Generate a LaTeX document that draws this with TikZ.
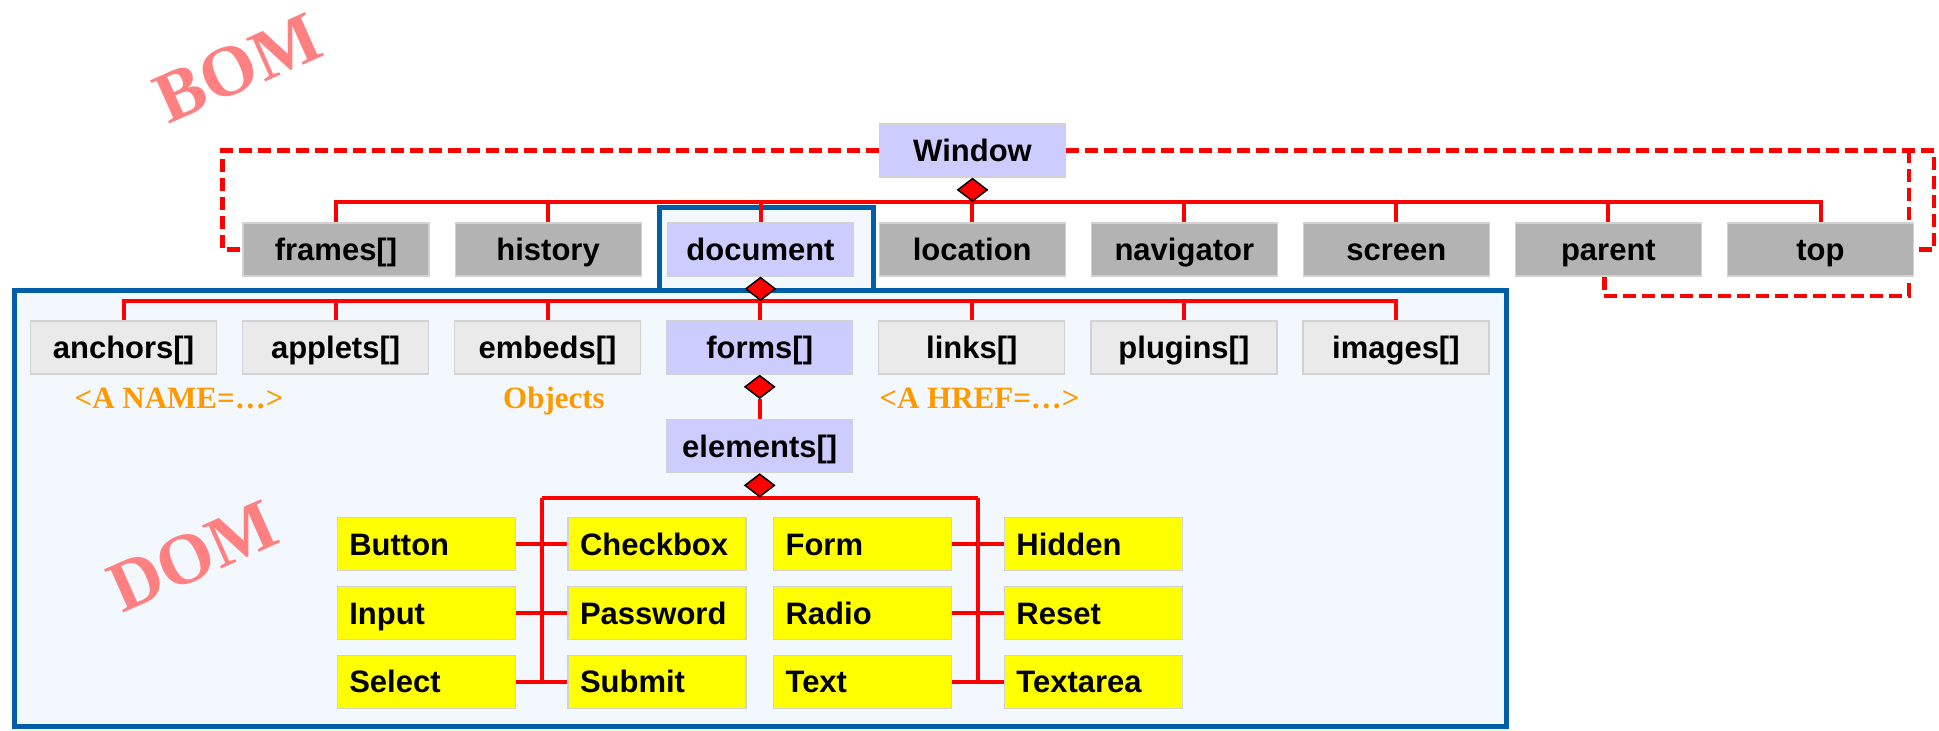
\documentclass[tikz,border=0pt]{standalone}
\usepackage{fontspec}
\setmainfont{Liberation Sans}
\newfontfamily\labelserif{Liberation Serif}
\usetikzlibrary{shapes.geometric,calc}

\definecolor{boxgrey}{HTML}{B3B3B3}
\definecolor{lav}{HTML}{CCCCFF}
\definecolor{paleobj}{HTML}{EAEAEA}
\definecolor{ctrlyellow}{HTML}{FFFF00}
\definecolor{boxedge}{HTML}{D2D2D2}
\definecolor{frameblue}{HTML}{005DAA}
\definecolor{domfill}{HTML}{F3F8FE}
\definecolor{noteorange}{HTML}{FF9900}
\definecolor{markpink}{HTML}{FF8080}
\definecolor{linkred}{HTML}{FF0000}

\pgfdeclarelayer{back}
\pgfdeclarelayer{wires}
\pgfsetlayers{back,wires,main}

\begin{document}
\begin{tikzpicture}[x=1pt,y=-1pt,
  objbox/.style={rectangle, draw=boxedge, line width=1.2pt, minimum width=186pt,
    minimum height=53pt, inner sep=0pt, text=black, text height=26pt, text depth=4pt,
    font=\fontsize{31}{36}\selectfont\bfseries},
  bomobj/.style={objbox, fill=boxgrey},
  mainobj/.style={objbox, fill=lav},
  domobj/.style={objbox, fill=paleobj},
  ctrlobj/.style={objbox, fill=ctrlyellow, minimum width=178pt, text width=154pt,
    align=left, inner xsep=12pt},
  redline/.style={draw=linkred, line width=4pt},
  dashref/.style={draw=linkred, line width=4.2pt, dash pattern=on 13pt off 6pt},
  aggmark/.style={diamond, aspect=1.3, draw=black, line width=1.5pt, fill=linkred,
    minimum width=30pt, minimum height=23pt, inner sep=0pt},
  notetext/.style={text=noteorange, anchor=base,
    font=\labelserif\fontsize{31}{36}\selectfont\bfseries},
  watermark/.style={text=markpink, rotate=24,
    font=\labelserif\fontsize{72}{80}\selectfont\bfseries},
  frame/.style={draw=frameblue, line width=5pt, fill=domfill}
]
\useasboundingbox (0,0) rectangle (1939,731);

% DOM area and the frame round the document object
\begin{pgfonlayer}{back}
\draw[frame] (14,290) rectangle (1506,726);
\draw[frame] (659,207) rectangle (873,290);
% BOM / DOM titles
\node[watermark] (bomtitle) at (238,68) {BOM};
\node[watermark] (domtitle) at (193,556) {DOM};
\end{pgfonlayer}

% Window and its children
\node[mainobj] (window) at (972.5,150.5) {Window};

\node[bomobj]  (frames)    at (336,249.5)    {frames[]};
\node[bomobj]  (history)   at (548.1,249.5)  {history};
\node[mainobj] (document)  at (760.5,249.5)  {document};
\node[bomobj]  (location)  at (972.2,249.5)  {location};
\node[bomobj]  (navigator) at (1184.3,249.5) {navigator};
\node[bomobj]  (screen)    at (1396.4,249.5) {screen};
\node[bomobj]  (parent)    at (1608.4,249.5) {parent};
\node[bomobj]  (topwin)    at (1820.5,249.5) {top};

% document children
\node[domobj]  (anchors)  at (123.5,347.5)  {anchors[]};
\node[domobj]  (applets)  at (335.6,347.5)  {applets[]};
\node[domobj]  (embeds)   at (547.6,347.5)  {embeds[]};
\node[mainobj] (forms)    at (759.7,347.5)  {forms[]};
\node[domobj]  (links)    at (971.8,347.5)  {links[]};
\node[domobj]  (plugins)  at (1183.9,347.5) {plugins[]};
\node[domobj]  (images)   at (1395.9,347.5) {images[]};

\node[notetext] (namenote) at (179,408)   {<A NAME=…>};
\node[notetext] (objnote)  at (554,408)   {Objects};
\node[notetext] (hrefnote) at (979.5,408) {<A HREF=…>};

\node[mainobj] (elements) at (759.7,446) {elements[]};

% form controls
\node[ctrlobj] (button)   at (426.3,544.2)  {Button};
\node[ctrlobj] (input)    at (426.3,613)    {Input};
\node[ctrlobj] (select)   at (426.3,681.7)  {Select};
\node[ctrlobj] (checkbox) at (657,544.2)    {Checkbox};
\node[ctrlobj] (password) at (657,613)      {Password};
\node[ctrlobj] (submit)   at (657,681.7)    {Submit};
\node[ctrlobj] (form)     at (862.6,544.2)  {Form};
\node[ctrlobj] (radio)    at (862.6,613)    {Radio};
\node[ctrlobj] (textbox)  at (862.6,681.7)  {Text};
\node[ctrlobj] (hidden)   at (1093.4,544.2) {Hidden};
\node[ctrlobj] (reset)    at (1093.4,613)   {Reset};
\node[ctrlobj] (textarea) at (1093.4,681.7) {Textarea};

% aggregation markers
\node[aggmark, anchor=north] (dwin)   at (window.south)   {};
\node[aggmark, anchor=north] (ddoc)   at (document.south) {};
\node[aggmark, anchor=north] (dforms) at (forms.south)    {};
\node[aggmark, anchor=north] (delem)  at (elements.south) {};

% junction columns between the control boxes
\coordinate (jl) at ($(button.east)!0.5!(checkbox.west)$);
\coordinate (jr) at ($(form.east)!0.5!(hidden.west)$);

% connectors, kept under the boxes
\begin{pgfonlayer}{wires}
% Window bus
\draw[redline] (frames.north) -- (frames.north |- dwin.south)
  -- (topwin.north |- dwin.south) -- (topwin.north);
\foreach \n in {history,document,location,navigator,screen,parent}
  \draw[redline] (\n.north) -- (\n.north |- dwin.south);
% document bus
\draw[redline] (anchors.north) -- (anchors.north |- ddoc.south)
  -- (images.north |- ddoc.south) -- (images.north);
\foreach \n in {applets,embeds,forms,links,plugins}
  \draw[redline] (\n.north) -- (\n.north |- ddoc.south);
% forms -> elements
\draw[redline] (dforms.south) -- (elements.north);
% elements bus
\draw[redline] (jl |- delem.south) -- (jr |- delem.south);
\draw[redline] (jl |- delem.south) -- (jl |- select.east);
\draw[redline] (jr |- delem.south) -- (jr |- textbox.east);
\draw[redline] (button.east) -- (checkbox.west);
\draw[redline] (input.east) -- (password.west);
\draw[redline] (select.east) -- (submit.west);
\draw[redline] (form.east) -- (hidden.west);
\draw[redline] (radio.east) -- (reset.west);
\draw[redline] (textbox.east) -- (textarea.west);
% window references
\draw[dashref] (window.west) -| ([xshift=-20pt]frames.west) -- (frames.west);
\draw[dashref] (window.east) -| ([xshift=20pt]topwin.east) -- (topwin.east);
\draw[dashref] ([xshift=-4pt]parent.south) -- ++(0,19)
  -| ([xshift=-5pt]topwin.east |- window.east);
\end{pgfonlayer}
\end{tikzpicture}
\end{document}
